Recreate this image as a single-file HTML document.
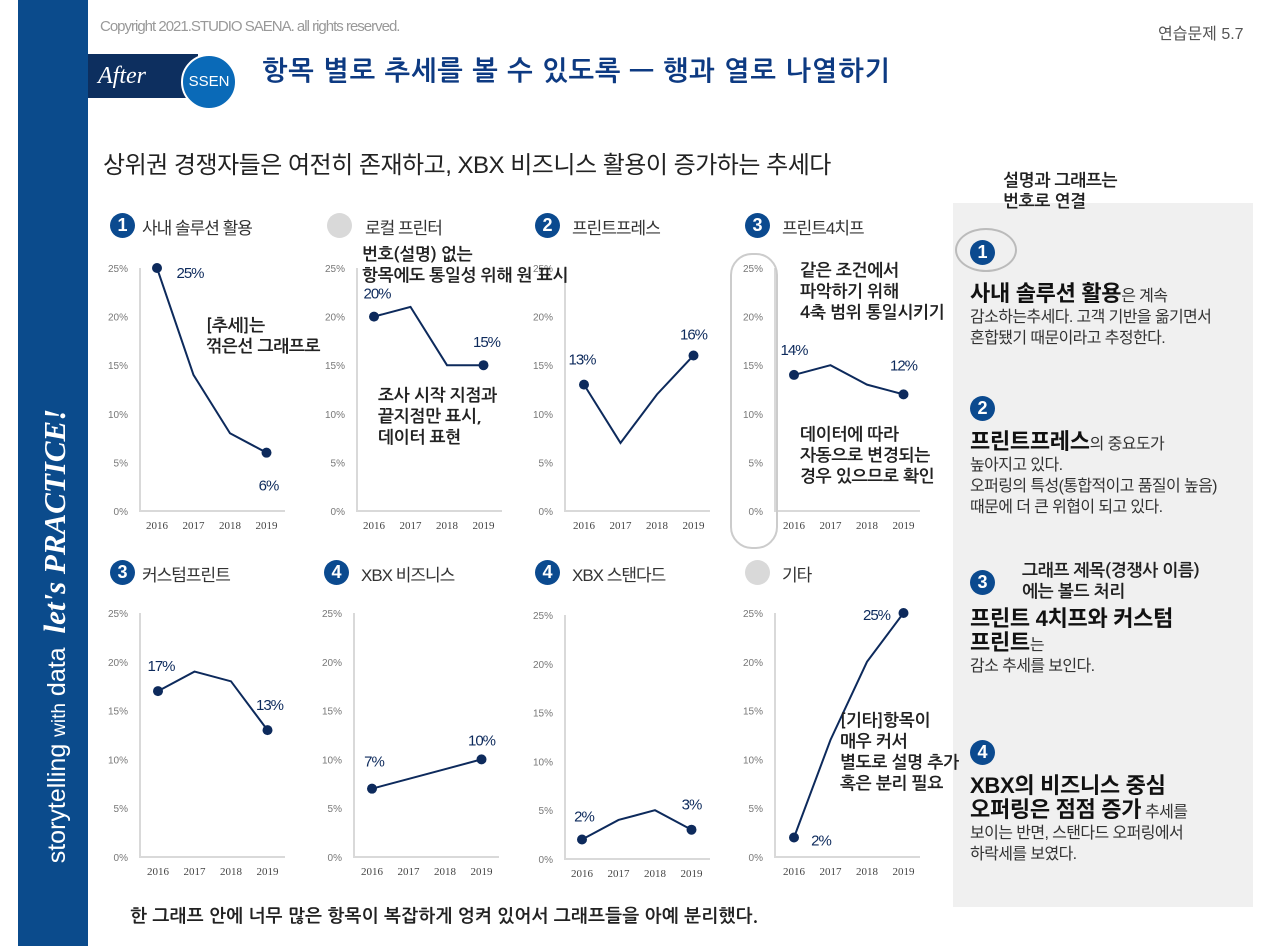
<!DOCTYPE html>
<html><head><meta charset="utf-8">
<style>
body{margin:0;width:1280px;height:946px;background:#fff;position:relative;overflow:hidden;font-family:"Liberation Sans","Noto Sans CJK KR",sans-serif;color:#222}
.a{position:absolute;white-space:nowrap}
.hw{font-family:"NanumGothic","Noto Sans CJK KR",sans-serif;}
.badge{position:absolute;width:25px;height:25px;border-radius:50%;background:#0b4a8f;color:#fff;font-size:18px;line-height:25px;text-align:center;font-weight:bold}
.gbadge{position:absolute;width:25px;height:25px;border-radius:50%;background:#d9d9d9}
.ttl{position:absolute;font-size:17px;color:#333;white-space:nowrap;letter-spacing:-1px}
.rp{font-size:16px;color:#333;line-height:21px;letter-spacing:-0.6px}
.rp b{font-size:22px;color:#111;letter-spacing:-0.3px}
.note{font-size:17px;color:#222;line-height:21px;font-weight:bold;letter-spacing:-0.3px}
</style></head><body>
<div class="a" style="left:18px;top:0;width:70px;height:946px;background:#0b4b8c"></div>
<div class="a" style="left:55px;top:636px;transform:translate(-50%,-50%) rotate(-90deg);color:#fff;font-size:25px;">storytelling <span style="font-size:19px">with</span> data &nbsp;<i style="font-family:'Liberation Serif',serif;font-size:31px;font-weight:bold">let's PRACTICE!</i></div>
<div class="a" style="left:100px;top:18px;font-size:15px;color:#999;letter-spacing:-1px">Copyright 2021.STUDIO SAENA. all rights reserved.</div>
<div class="a" style="left:1158px;top:20px;font-size:16px;color:#555">연습문제 5.7</div>
<div class="a" style="left:88px;top:54px;width:100px;height:44px;background:#0d2f5f;color:#fff;font-size:24px;line-height:44px;padding-left:10px;font-family:'Liberation Serif',serif;font-style:italic">After</div>
<div class="a" style="left:181px;top:54px;width:52px;height:52px;border-radius:50%;background:#0a6ab8;border:2px solid #fff;color:#fff;font-size:15px;line-height:52px;text-align:center">SSEN</div>
<div class="a hw" style="left:262px;top:58px;font-size:27px;color:#0d3a82;font-weight:bold;letter-spacing:1px">항목 별로 추세를 볼 수 있도록 — 행과 열로 나열하기</div>
<div class="a" style="left:103px;top:145px;font-size:24px;color:#222;letter-spacing:-0.5px">상위권 경쟁자들은 여전히 존재하고, XBX 비즈니스 활용이 증가하는 추세다</div>

<svg id="ch" class="a" style="left:0;top:0" width="1280" height="946"></svg>

<div id="titles"></div>

<div class="a" style="left:953px;top:203px;width:300px;height:704px;background:#f0f0f0"></div>
<div class="a" style="left:955px;top:228px;width:58px;height:40px;border:2px solid #bbb;border-radius:50%"></div>
<div class="badge" style="left:970px;top:240px">1</div>
<div class="a rp" style="left:970px;top:283px"><b>사내 솔루션 활용</b>은 계속<br>감소하는추세다. 고객 기반을 옮기면서<br>혼합됐기 때문이라고 추정한다.</div>
<div class="badge" style="left:970px;top:396px">2</div>
<div class="a rp" style="left:970px;top:431px"><b>프린트프레스</b>의 중요도가<br>높아지고 있다.<br>오퍼링의 특성(통합적이고 품질이 높음)<br>때문에 더 큰 위협이 되고 있다.</div>
<div class="badge" style="left:970px;top:570px">3</div>
<div class="a rp" style="left:970px;top:608px"><b>프린트 4치프와 커스텀<br>프린트</b>는<br>감소 추세를 보인다.</div>
<div class="badge" style="left:970px;top:740px">4</div>
<div class="a rp" style="left:970px;top:775px"><b>XBX의 비즈니스 중심<br>오퍼링은 점점 증가</b> 추세를<br>보이는 반면, 스탠다드 오퍼링에서<br>하락세를 보였다.</div>

<div class="a note hw" style="left:1003px;top:170px">설명과 그래프는<br>번호로 연결</div>
<div class="a note hw" style="left:1022px;top:560px">그래프 제목(경쟁사 이름)<br>에는 볼드 처리</div>
<div class="a note hw" style="left:206px;top:315px">[추세]는<br>꺾은선 그래프로</div>
<div class="a note hw" style="left:362px;top:244px">번호(설명) 없는<br>항목에도 통일성 위해 원 표시</div>
<div class="a note hw" style="left:378px;top:385px">조사 시작 지점과<br>끝지점만 표시,<br>데이터 표현</div>
<div class="a note hw" style="left:800px;top:260px">같은 조건에서<br>파악하기 위해<br>4축 범위 통일시키기</div>
<div class="a note hw" style="left:800px;top:424px">데이터에 따라<br>자동으로 변경되는<br>경우 있으므로 확인</div>
<div class="a note hw" style="left:840px;top:710px">[기타]항목이<br>매우 커서<br>별도로 설명 추가<br>혹은 분리 필요</div>
<div class="a note hw" style="left:130px;top:906px;font-size:18px;letter-spacing:0.2px">한 그래프 안에 너무 많은 항목이 복잡하게 엉켜 있어서 그래프들을 아예 분리했다.</div>
<div class="a" style="left:730px;top:253px;width:44px;height:292px;border:2px solid #ccc;border-radius:22px"></div>

<script>
const years = ["2016","2017","2018","2019"];
const yTicks = [0,5,10,15,20,25];
const names = ["사내 솔루션 활용","로컬 프린터","프린트프레스","프린트4치프","커스텀프린트","XBX 비즈니스","XBX 스탠다드","기타"];
const badges = ["1","","2","3","3","4","4",""];
const s1 = [25,14,8,6];
const s2 = [20,21,15,15];
const s3 = [13,7,12,16];
const s4 = [14,15,13,12];
const s5 = [17,19,18,13];
const s6 = [7,8,9,10];
const s7 = [2,4,5,3];
const s8 = [2,12,20,25];
const series = [s1,s2,s3,s4,s5,s6,s7,s8];

// layout (pixel geometry, not data)
const geo = [
 {ax:140,top:268,bot:511,x0:157,tY:225,ls:[33,4],le:[2,32]},
 {ax:357,top:268,bot:511,x0:374,tY:225,ls:[3,-24],le:[3,-24]},
 {ax:565,top:268,bot:511,x0:584,tY:225,ls:[-2,-26],le:[0,-22]},
 {ax:775,top:268,bot:511,x0:794,tY:225,ls:[0,-26],le:[0,-30]},
 {ax:140,top:613,bot:857,x0:158,tY:572,ls:[3,-26],le:[2,-26]},
 {ax:354,top:613,bot:857,x0:372,tY:572,ls:[2,-28],le:[0,-20]},
 {ax:565,top:615,bot:859,x0:582,tY:572,ls:[2,-24],le:[0,-26]},
 {ax:775,top:613,bot:857,x0:794,tY:572,ls:[27,2],le:[-27,1]}
];
const step = 36.5;
const NS="http://www.w3.org/2000/svg";
const svg=document.getElementById('ch');
function mk(t,a,txt){const e=document.createElementNS(NS,t);for(const k in a)e.setAttribute(k,a[k]);if(txt!==undefined)e.textContent=txt;svg.appendChild(e);return e;}
const tl=document.getElementById('titles');
series.forEach((d,ci)=>{
  const g=geo[ci];
  const yS=v=>g.bot-(v/25)*(g.bot-g.top);
  const xS=i=>g.x0+i*step;
  const ax=mk('path',{d:`M${g.ax} ${g.top} V${g.bot} H${g.ax+145}`,fill:'none',stroke:'#d9d9d9','stroke-width':2});
  
  
  yTicks.forEach(t=>{
    const e=mk('text',{x:g.ax-12,y:yS(t)+4,'text-anchor':'end','font-size':10,fill:'#777'},t+'%');
    
    
  });
  years.forEach((y,i)=>{
    const e=mk('text',{x:xS(i),y:g.bot+18,'text-anchor':'middle','font-size':11,fill:'#444','font-family':'Liberation Serif,serif'},y);
    
    
  });
  const ln=mk('polyline',{points:d.map((v,i)=>xS(i)+','+yS(v)).join(' '),fill:'none',stroke:'#0d2a5c','stroke-width':2});
  
  
  [0,d.length-1].forEach((i,k)=>{
    const c=mk('circle',{cx:xS(i),cy:yS(d[i]),r:5,fill:'#0d2a5c'});
    
    
    const off=k?g.le:g.ls;
    const t=mk('text',{x:xS(i)+off[0],y:yS(d[i])+off[1]+6,'text-anchor':'middle','font-size':15,fill:'#0d2a5c','letter-spacing':'-1'},d[i]+'%');
    
    
  });
  const b=document.createElement('div');
  b.className=badges[ci]?'badge':'gbadge';
  b.style.left=(g.ax-30)+'px';b.style.top=(g.tY-12)+'px';
  b.textContent=badges[ci];
  
  
  tl.appendChild(b);
  const t=document.createElement('div');
  t.className='ttl';t.style.left=(g.ax+(badges[ci]?2:8))+'px';t.style.top=(g.tY-11)+'px';
  if(ci==2||ci==3||ci==5||ci==6||ci==7)t.style.left=(g.ax+7)+'px';
  t.textContent=names[ci];
  
  
  tl.appendChild(t);
});
</script>
</body></html>
